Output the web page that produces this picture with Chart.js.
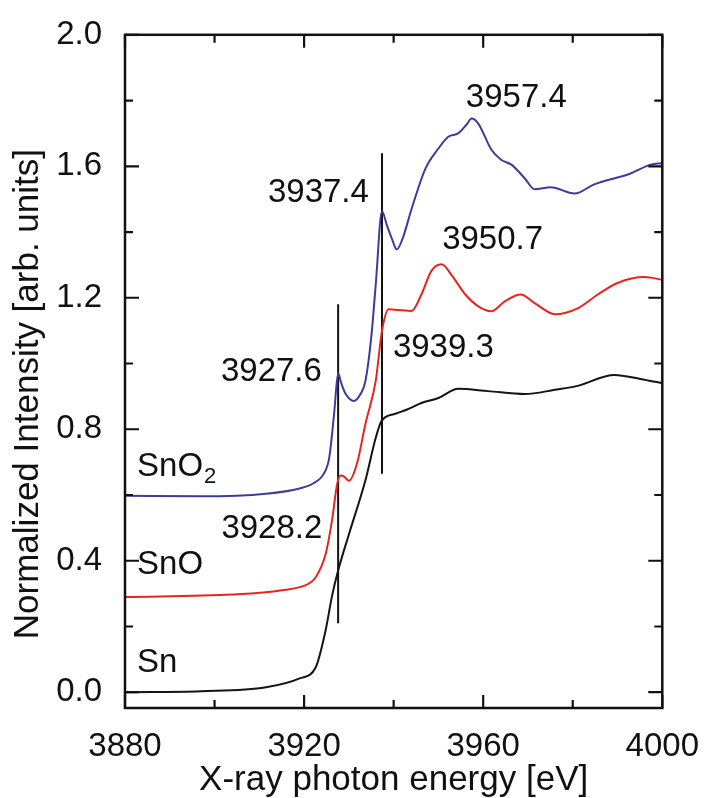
<!DOCTYPE html>
<html>
<head>
<meta charset="utf-8">
<script src="https://cdn.jsdelivr.net/npm/chart.js@4.4.0/dist/chart.umd.min.js"></script>
<style>
html,body{margin:0;padding:0;background:#fff;}
#wrap{width:710px;height:798px;position:relative;}
</style>
</head>
<body>
<div id="wrap"><canvas id="xanes"></canvas></div>
<script>
/* ===== data ===== */

const snEnergy = [3880,3897,3911.5,3919,3922.6,3924.8,3926.2,3927.6,3930,3933.7,3936,3937.3,3940.4,3943,3946.2,3950,3954.4,3961.1,3969.3,3976,3981.1,3989.3,3995.1,4000];
const snValues = [0.0,0.003,0.015,0.042,0.076,0.188,0.29,0.37,0.48,0.645,0.774,0.825,0.847,0.86,0.88,0.895,0.923,0.916,0.907,0.92,0.932,0.965,0.953,0.94];

const snoEnergy = [3880,3904,3915,3921,3922.6,3924.8,3926.2,3927.4,3928.2,3929,3930,3931.8,3933.7,3936,3937.4,3938.9,3941,3944,3946.2,3948.4,3950.7,3952.9,3956,3958.9,3961.8,3964.9,3968.4,3971.5,3976,3981.1,3985.6,3990,3996,4000];
const snoValues = [0.29,0.297,0.31,0.33,0.35,0.42,0.52,0.634,0.659,0.655,0.643,0.695,0.816,0.947,1.1,1.165,1.163,1.16,1.21,1.281,1.302,1.27,1.21,1.174,1.159,1.19,1.21,1.184,1.15,1.168,1.21,1.245,1.263,1.255];

const sno2Energy = [3880,3897,3911.5,3919,3922,3924.4,3925.6,3926.7,3927.6,3928.3,3929.3,3931.1,3932.6,3933.7,3935,3936,3937.4,3938.5,3939.6,3940.7,3942,3944,3947.1,3950,3952.2,3954.4,3956.3,3957.4,3958.9,3961.8,3964,3966.3,3969.3,3971.5,3975.1,3980.4,3984.8,3992.9,3997.4,4000];
const sno2Values = [0.598,0.596,0.604,0.62,0.635,0.665,0.712,0.847,0.97,0.94,0.907,0.886,0.907,0.947,1.08,1.24,1.463,1.42,1.38,1.347,1.38,1.47,1.593,1.654,1.69,1.70,1.727,1.745,1.73,1.651,1.62,1.605,1.563,1.53,1.536,1.517,1.545,1.578,1.605,1.61];

// vertical marker lines
const markerEnergy = [3927.6, 3937.4];
const markerLow = [0.21, 0.665];
const markerHigh = [1.18, 1.64];

// peak labels (text + anchor in data units)
const peakText = ["3957.4","3937.4","3950.7","3939.3","3927.6","3928.2"];
const peakX = [3967.4,3923.2,3962.1,3951.1,3912.7,3912.8];
const peakY = [1.809,1.519,1.376,1.047,0.974,0.496];

// sample names
const sampleText = ["SnO","SnO","Sn"];
const sampleSub = ["2","",""];
const sampleY = [0.686,0.387,0.0895];
const sampleX = 3882.7;

// axis ticks
const xMajor = [3880,3920,3960,4000];
const xMinor = [3900,3940,3980];
const yMajor = [0.0,0.4,0.8,1.2,1.6,2.0];
const yMinor = [0.2,0.6,1.0,1.4,1.8];

/* ===== helpers ===== */

const pts = (xs,ys)=>xs.map((x,i)=>({x:x,y:ys[i]}));

const FONT = "'Liberation Sans', Arial, Helvetica, sans-serif";

const markerSets = markerEnergy.map((e,i)=>({
  label:"marker"+i,
  data:[{x:e,y:markerLow[i]},{x:e,y:markerHigh[i]}],
  borderColor:"#111",
  borderWidth:2,
  pointRadius:0,
  tension:0
}));

/* frame, inward ticks, labels */
const framePlugin = {
  id:"frame",
  afterDatasetsDraw(chart){
    const {ctx, chartArea:a, scales:{x,y}} = chart;
    ctx.save();
    ctx.strokeStyle = "#111";
    ctx.lineWidth = 2.5;
    ctx.strokeRect(a.left, a.top, a.right-a.left, a.bottom-a.top);

    ctx.lineWidth = 2.2;
    ctx.beginPath();
    const xt = (v,len)=>{
      const px = x.getPixelForValue(v);
      ctx.moveTo(px,a.bottom); ctx.lineTo(px,a.bottom-len);
      ctx.moveTo(px,a.top); ctx.lineTo(px,a.top+len);
    };
    const yt = (v,len)=>{
      const py = y.getPixelForValue(v);
      ctx.moveTo(a.left,py); ctx.lineTo(a.left+len,py);
      ctx.moveTo(a.right,py); ctx.lineTo(a.right-len,py);
    };
    xMajor.forEach(v=>xt(v,13));
    xMinor.forEach(v=>xt(v,8));
    yMajor.forEach(v=>yt(v,14));
    yMinor.forEach(v=>yt(v,8));
    ctx.stroke();

    ctx.fillStyle = "#111";
    ctx.font = "33px " + FONT;
    ctx.textBaseline = "middle";
    ctx.textAlign = "center";
    peakText.forEach((t,i)=>{
      ctx.fillText(t, x.getPixelForValue(peakX[i]), y.getPixelForValue(peakY[i]));
    });

    ctx.textAlign = "left";
    sampleText.forEach((t,i)=>{
      const px = x.getPixelForValue(sampleX);
      const py = y.getPixelForValue(sampleY[i]);
      ctx.font = "33px " + FONT;
      ctx.fillText(t, px, py);
      if(sampleSub[i]){
        const w = ctx.measureText(t).width;
        ctx.font = "22px " + FONT;
        ctx.fillText(sampleSub[i], px + w + 1, py + 10);
      }
    });

    // y axis title
    ctx.font = "35px " + FONT;
    ctx.textAlign = "center";
    ctx.translate(28, y.getPixelForValue(0.907));
    ctx.rotate(-Math.PI/2);
    ctx.fillText("Normalized Intensity [arb. units]", 0, 0);
    ctx.restore();
  }
};

/* ===== chart ===== */

new Chart(document.getElementById("xanes"),{
  type:"line",
  data:{
    datasets:[
      {label:"Sn", data:pts(snEnergy,snValues), borderColor:"#141414", borderWidth:2, pointRadius:0, cubicInterpolationMode:"monotone"},
      {label:"SnO", data:pts(snoEnergy,snoValues), borderColor:"#e5261f", borderWidth:2, pointRadius:0, cubicInterpolationMode:"monotone"},
      {label:"SnO2", data:pts(sno2Energy,sno2Values), borderColor:"#3c3c9a", borderWidth:2, pointRadius:0, cubicInterpolationMode:"monotone"},
      ...markerSets
    ]
  },
  options:{
    responsive:true,
    maintainAspectRatio:false,
    animation:false,
    events:[],
    layout:{padding:{left:0,top:33,right:43,bottom:0}},
    plugins:{legend:{display:false}, tooltip:{enabled:false}},
    scales:{
      x:{
        type:"linear",
        min:3880, max:4000,
        grid:{display:false}, border:{display:false},
        afterBuildTicks:s=>{ s.ticks = xMajor.map(v=>({value:v})); },
        afterFit:s=>{ s.height = 90; },
        ticks:{color:"#111", font:{family:FONT,size:33}, padding:11, maxRotation:0, callback:v=>String(v)},
        title:{display:true, text:"X-ray photon energy [eV]", color:"#111", font:{family:FONT,size:35,lineHeight:1}, padding:{top:0,bottom:0}}
      },
      y:{
        type:"linear",
        min:-0.048, max:2.0,
        grid:{display:false}, border:{display:false},
        afterBuildTicks:s=>{ s.ticks = yMajor.map(v=>({value:v})); },
        afterFit:s=>{ s.width = 125; },
        ticks:{color:"#111", font:{family:FONT,size:33}, padding:15, callback:v=>Number(v).toFixed(1)}
      }
    }
  },
  plugins:[framePlugin]
});
</script>
</body>
</html>
